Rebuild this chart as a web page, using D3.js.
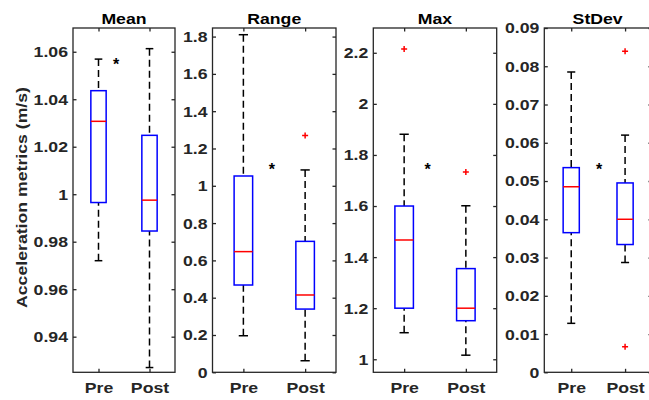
<!DOCTYPE html>
<meta charset="utf-8">
<style>
body { margin: 0; background: #fff; }
svg { display: block; font-family: "Liberation Sans", Arial, sans-serif; }
.axis text { font-size: 15.5px; font-weight: bold; fill: #262626; }
.axis line { stroke: #262626; stroke-width: 1.3; }
.axis path { display: none; }
.frame { fill: none; stroke: #262626; stroke-width: 1.3; }
.title { font-size: 15.5px; font-weight: bold; fill: #000; }
.ylab { font-size: 15.5px; font-weight: bold; fill: #262626; }
.star { font-size: 16px; font-weight: bold; fill: #000; }
.whisker { stroke: #000; stroke-width: 1.5; stroke-dasharray: 7,4; }
.cap { stroke: #000; stroke-width: 1.5; }
.box { fill: none; stroke: #0000ff; stroke-width: 1.5; }
.median { stroke: #ff0000; stroke-width: 1.5; }
.outlier { stroke: #ff0000; stroke-width: 1.5; }
</style>
<body>
<script src="https://cdn.jsdelivr.net/npm/d3@7"></script>
<script>
var titles = ["Mean", "Range", "Max", "StDev"];
var groups = ["Pre", "Post"];

// [lower whisker, q1, median, q3, upper whisker] for Pre and Post
var meanStats  = [[0.972, 0.9965, 1.0307, 1.0436, 1.0569], [0.927, 0.9845, 0.9975, 1.0248, 1.0613]];
var rangeStats = [[0.196, 0.468, 0.647, 1.0525, 1.81], [0.062, 0.339, 0.4145, 0.702, 1.085]];
var maxStats   = [[1.104, 1.2, 1.467, 1.6, 1.881], [1.016, 1.151, 1.2, 1.355, 1.601]];
var stdevStats = [[0.0128, 0.0365, 0.0485, 0.0535, 0.0785], [0.0287, 0.0334, 0.040, 0.0495, 0.062]];

var meanOutliers  = [[], []];
var rangeOutliers = [[], [1.269]];
var maxOutliers   = [[2.2145], [1.733]];
var stdevOutliers = [[], [0.0839, 0.0067]];

var yDomains = [[0.925, 1.07], [0, 1.846], [0.949, 2.297], [0, 0.09]];
var yTicks = [
  [0.94, 0.96, 0.98, 1, 1.02, 1.04, 1.06],
  [0, 0.2, 0.4, 0.6, 0.8, 1, 1.2, 1.4, 1.6, 1.8],
  [1, 1.2, 1.4, 1.6, 1.8, 2, 2.2],
  [0, 0.01, 0.02, 0.03, 0.04, 0.05, 0.06, 0.07, 0.08, 0.09]
];
// significance star (x in group units, y in data units)
var starPos = [[1.347, 1.0561], [1.46, 1.108], [1.38, 1.758], [1.52, 0.0539]];

var allStats = [meanStats, rangeStats, maxStats, stdevStats];
var allOutliers = [meanOutliers, rangeOutliers, maxOutliers, stdevOutliers];

var W = 649, H = 400;
var top_ = 28, bottom = 372.3;
var panelX = [[73, 175], [212.5, 336], [373.3, 496.7], [544.3, 652]];
var boxW = 0.3, capW = 0.15, tick = 3.5;

var svg = d3.select("body").append("svg")
  .attr("width", W)
  .attr("height", H);

titles.forEach(function(t, i) {
  var x = d3.scaleLinear().domain([0.5, 2.5]).range(panelX[i]);
  var y = d3.scaleLinear().domain(yDomains[i]).range([bottom, top_]);
  var g = svg.append("g");

  g.append("g").attr("class", "axis")
    .attr("transform", "translate(" + panelX[i][0] + ",0)")
    .call(d3.axisLeft(y).tickValues(yTicks[i]).tickSize(-tick).tickPadding(5)
      .tickFormat(function(d) { return String(d); }));
  g.append("g").attr("class", "axis")
    .attr("transform", "translate(" + panelX[i][1] + ",0)")
    .call(d3.axisRight(y).tickValues(yTicks[i]).tickSize(-tick).tickFormat(""));
  g.append("g").attr("class", "axis")
    .attr("transform", "translate(0," + bottom + ")")
    .call(d3.axisBottom(x).tickValues([1, 2]).tickSize(-tick).tickPadding(10)
      .tickFormat(function(d) { return groups[d - 1]; }));
  g.append("g").attr("class", "axis")
    .attr("transform", "translate(0," + top_ + ")")
    .call(d3.axisTop(x).tickValues([1, 2]).tickSize(-tick).tickFormat(""));

  var stats = allStats[i];
  stats.forEach(function(s, j) {
    var c = j + 1;
    // whiskers
    g.append("line").attr("class", "whisker")
      .attr("x1", x(c)).attr("x2", x(c)).attr("y1", y(s[4])).attr("y2", y(s[3]));
    g.append("line").attr("class", "whisker")
      .attr("x1", x(c)).attr("x2", x(c)).attr("y1", y(s[0])).attr("y2", y(s[1]));
    [s[0], s[4]].forEach(function(v) {
      g.append("line").attr("class", "cap")
        .attr("x1", x(c - capW / 2)).attr("x2", x(c + capW / 2))
        .attr("y1", y(v)).attr("y2", y(v));
    });
    g.append("rect").attr("class", "box")
      .attr("x", x(c - boxW / 2)).attr("width", x(c + boxW / 2) - x(c - boxW / 2))
      .attr("y", y(s[3])).attr("height", y(s[1]) - y(s[3]));
    g.append("line").attr("class", "median")
      .attr("x1", x(c - boxW / 2)).attr("x2", x(c + boxW / 2))
      .attr("y1", y(s[2])).attr("y2", y(s[2]));
    allOutliers[i][j].forEach(function(v) {
      g.append("path").attr("class", "outlier")
        .attr("d", "M" + (x(c) - 3) + "," + y(v) + "h6M" + x(c) + "," + (y(v) - 3) + "v6");
    });
  });

  g.append("rect").attr("class", "frame")
    .attr("x", panelX[i][0]).attr("y", top_)
    .attr("width", panelX[i][1] - panelX[i][0]).attr("height", bottom - top_);

  g.append("text").attr("class", "title stretch")
    .attr("x", (panelX[i][0] + Math.min(panelX[i][1], 645)) / 2 + (i == 3 ? 3 : 0))
    .attr("y", 24)
    .attr("text-anchor", "middle")
    .text(t);

  g.append("text").attr("class", "star")
    .attr("x", x(starPos[i][0]))
    .attr("y", y(starPos[i][1]) + 9)
    .attr("text-anchor", "middle")
    .text("*");
});

svg.append("text")
  .attr("class", "ylab stretch")
  .attr("transform", "translate(26.5,197.5) rotate(-90)")
  .attr("text-anchor", "middle")
  .text("Acceleration metrics (m/s)");

svg.selectAll(".axis text").classed("stretch", true);
svg.selectAll("text.stretch").each(function() {
  var w = this.getComputedTextLength();
  d3.select(this).attr("textLength", w * 1.14).attr("lengthAdjust", "spacingAndGlyphs");
});
</script>
</body>
